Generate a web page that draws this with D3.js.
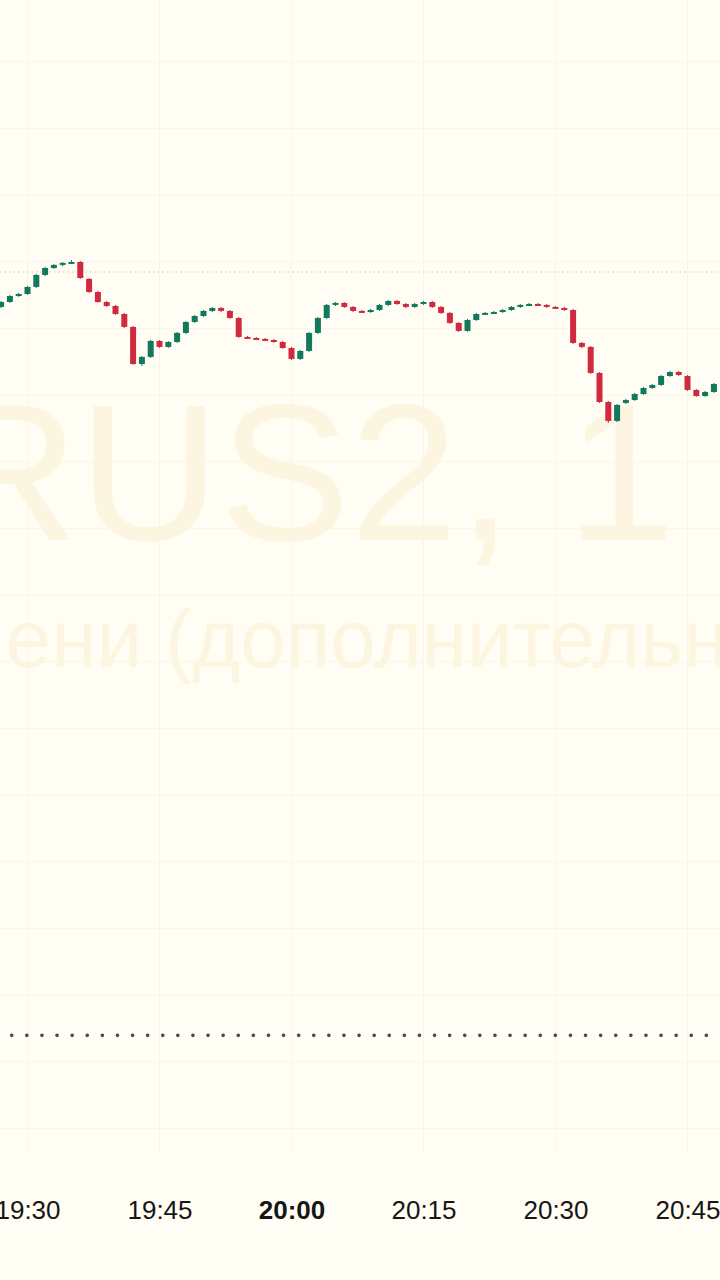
<!DOCTYPE html>
<html><head><meta charset="utf-8">
<script src="https://cdn.jsdelivr.net/npm/d3@7"></script>
<style>html,body{margin:0;padding:0;background:#fffdf4;}svg{display:block}</style>
</head><body>
<svg id="c" width="720" height="1280"></svg>
<script>
// ---- data (1-minute candles starting 19:27) ----
const firstCandle = "19:27";
const opens = [2881.63,2882.00,2882.45,2882.60,2883.13,2884.03,2884.55,2884.78,2884.93,2885.00,
2883.73,2882.75,2882.00,2881.70,2881.10,2880.13,2877.35,2877.88,2879.08,2878.63,
2879.00,2879.68,2880.50,2880.95,2881.33,2881.55,2881.33,2880.80,2879.38,2879.30,
2879.23,2879.15,2879.00,2878.55,2877.73,2878.33,2879.68,2880.80,2881.78,2881.93,
2881.63,2881.33,2881.25,2881.40,2881.78,2882.08,2881.85,2881.63,2881.85,2882.00,
2881.63,2881.18,2880.43,2879.83,2880.65,2881.10,2881.18,2881.25,2881.40,2881.63,
2881.78,2881.85,2881.78,2881.63,2881.55,2881.40,2878.93,2878.63,2876.68,2874.50,
2873.08,2874.43,2874.65,2875.10,2875.55,2875.78,2876.45,2876.75,2876.45,2875.40,
2874.95,2875.25];
const highs = [2882.08,2882.53,2882.68,2883.20,2884.10,2884.63,2884.85,2885.00,2885.15,2885.08,
2883.80,2882.83,2882.08,2881.78,2881.18,2880.20,2877.95,2879.15,2879.15,2879.08,
2879.75,2880.58,2881.03,2881.40,2881.63,2881.63,2881.40,2880.88,2879.45,2879.38,
2879.30,2879.23,2879.08,2878.63,2878.40,2879.75,2880.88,2881.85,2882.00,2882.00,
2881.70,2881.40,2881.48,2881.85,2882.15,2882.15,2881.93,2881.93,2882.08,2882.08,
2881.70,2881.25,2880.50,2880.73,2881.18,2881.25,2881.33,2881.48,2881.70,2881.85,
2881.93,2881.93,2881.85,2881.70,2881.63,2881.48,2879.00,2878.70,2876.75,2874.58,
2874.35,2874.73,2875.18,2875.63,2875.85,2876.53,2876.83,2876.83,2876.53,2875.48,
2875.33,2875.93];
const lows = [2881.55,2881.93,2882.38,2882.53,2883.05,2883.95,2884.48,2884.70,2884.85,2883.73,
2882.68,2881.93,2881.63,2881.03,2880.05,2877.28,2877.20,2877.80,2878.55,2878.55,
2878.93,2879.60,2880.43,2880.88,2881.25,2881.25,2880.73,2879.30,2879.23,2879.15,
2879.08,2878.93,2878.48,2877.65,2877.65,2878.25,2879.60,2880.73,2881.70,2881.55,
2881.25,2881.18,2881.18,2881.33,2881.70,2881.78,2881.55,2881.55,2881.78,2881.55,
2881.10,2880.35,2879.75,2879.75,2880.58,2881.03,2881.10,2881.18,2881.33,2881.55,
2881.70,2881.70,2881.55,2881.48,2881.33,2878.85,2878.55,2876.60,2874.43,2872.93,
2873.00,2874.35,2874.58,2875.03,2875.48,2875.70,2876.38,2876.45,2875.33,2874.88,
2874.88,2875.18];
const closes = [2882.00,2882.45,2882.60,2883.13,2884.03,2884.55,2884.78,2884.93,2885.00,2883.80,
2882.75,2882.00,2881.70,2881.10,2880.13,2877.35,2877.88,2879.08,2878.63,2879.00,
2879.68,2880.50,2880.95,2881.33,2881.55,2881.33,2880.80,2879.38,2879.30,2879.23,
2879.15,2879.00,2878.55,2877.73,2878.33,2879.68,2880.80,2881.78,2881.93,2881.63,
2881.33,2881.25,2881.40,2881.78,2882.08,2881.85,2881.63,2881.85,2882.00,2881.63,
2881.18,2880.43,2879.83,2880.65,2881.10,2881.18,2881.25,2881.40,2881.63,2881.78,
2881.85,2881.78,2881.63,2881.55,2881.40,2878.93,2878.63,2876.68,2874.50,2873.08,
2874.28,2874.65,2875.10,2875.55,2875.78,2876.45,2876.75,2876.53,2875.40,2874.95,
2875.25,2875.85];
const tickLabels = ["19:30","19:45","20:00","20:15","20:30","20:45"];
const boldTick = "20:00";
const gridPrices = [2900,2895,2890,2885,2880,2875,2870,2865,2860,2855,2850,2845,2840,2835,2830,2825,2820];
const lastPriceLine = 2884.25;
const refPriceLine = 2827.0;
const watermark1 = "RUS2, 1";
const watermark2 = "времени (дополнительная сессия)";

// ---- layout ----
const W = 720, H = 1280, plotBottom = 1150;
const bg = "#fffdf4", gridCol = "#f9f5e6", wmCol = "#fcf6e1";
const upCol = "#13795c", downCol = "#cf2a40";

const parse = d3.timeParse("%H:%M");
const svg = d3.select("#c");
svg.append("rect").attr("width", W).attr("height", H).attr("fill", bg);

const x = d3.scaleTime().domain([parse("19:30"), parse("20:45")]).range([27.5, 687.5]);
const y = d3.scaleLinear().domain([2800, 2900]).range([62 + 100 * 40 / 3, 62]);

const candles = opens.map((o, i) => ({
  t: d3.timeMinute.offset(parse(firstCandle), i),
  o, h: highs[i], l: lows[i], c: closes[i]
}));

// grid
const grid = svg.append("g");
grid.selectAll("line.h").data(gridPrices).join("line")
  .attr("x1", 0).attr("x2", W)
  .attr("y1", d => y(d)).attr("y2", d => y(d))
  .attr("stroke", gridCol).attr("stroke-width", 1);
const tickDates = tickLabels.map(parse);
grid.selectAll("line.v").data(tickDates).join("line")
  .attr("x1", d => x(d)).attr("x2", d => x(d))
  .attr("y1", 0).attr("y2", plotBottom)
  .attr("stroke", gridCol).attr("stroke-width", 1);

// watermark
svg.append("text").text(watermark1)
  .attr("x", -62).attr("y", 540)
  .attr("font-family", "Liberation Sans, Arial, sans-serif")
  .attr("font-size", 195).attr("fill", wmCol);
const wm2 = svg.append("text").text(watermark2)
  .attr("y", 667)
  .attr("font-family", "Liberation Sans, Arial, sans-serif")
  .attr("font-size", 82).attr("fill", wmCol);
const pre = wm2.node().getSubStringLength(0, 8);
wm2.attr("x", 165 - pre);

// price lines
svg.append("line")
  .attr("x1", 0).attr("x2", W)
  .attr("y1", y(lastPriceLine)).attr("y2", y(lastPriceLine))
  .attr("stroke", "#f0bd8e").attr("stroke-width", 1.2)
  .attr("stroke-dasharray", "1.5 3");
svg.append("line")
  .attr("x1", 11.7).attr("x2", W)
  .attr("y1", y(refPriceLine)).attr("y2", y(refPriceLine))
  .attr("stroke", "#4a4a4a").attr("stroke-width", 3.6)
  .attr("stroke-linecap", "round")
  .attr("stroke-dasharray", "0.1 15");

// candles
const bw = 6;
const cg = svg.append("g").selectAll("g").data(candles).join("g");
cg.append("line")
  .attr("x1", d => x(d.t)).attr("x2", d => x(d.t))
  .attr("y1", d => y(d.h)).attr("y2", d => y(d.l))
  .attr("stroke", d => d.c >= d.o ? upCol : downCol).attr("stroke-width", 1);
cg.append("rect")
  .attr("x", d => x(d.t) - bw / 2)
  .attr("width", bw)
  .attr("y", d => Math.min(y(d.o), y(d.c)))
  .attr("height", d => Math.max(2, Math.abs(y(d.o) - y(d.c))))
  .attr("fill", d => d.c >= d.o ? upCol : downCol);

// time axis
const axis = d3.axisBottom(x).tickValues(tickDates).tickFormat(d3.timeFormat("%H:%M")).tickSize(0).tickPadding(0);
const ag = svg.append("g").attr("transform", "translate(0,1201)").call(axis);
ag.select(".domain").remove();
ag.selectAll("text")
  .attr("font-family", "Liberation Sans, Arial, sans-serif")
  .attr("font-size", 26)
  .attr("fill", "#161616")
  .attr("font-weight", d => d3.timeFormat("%H:%M")(d) === boldTick ? "bold" : "normal");
</script>
</body></html>
